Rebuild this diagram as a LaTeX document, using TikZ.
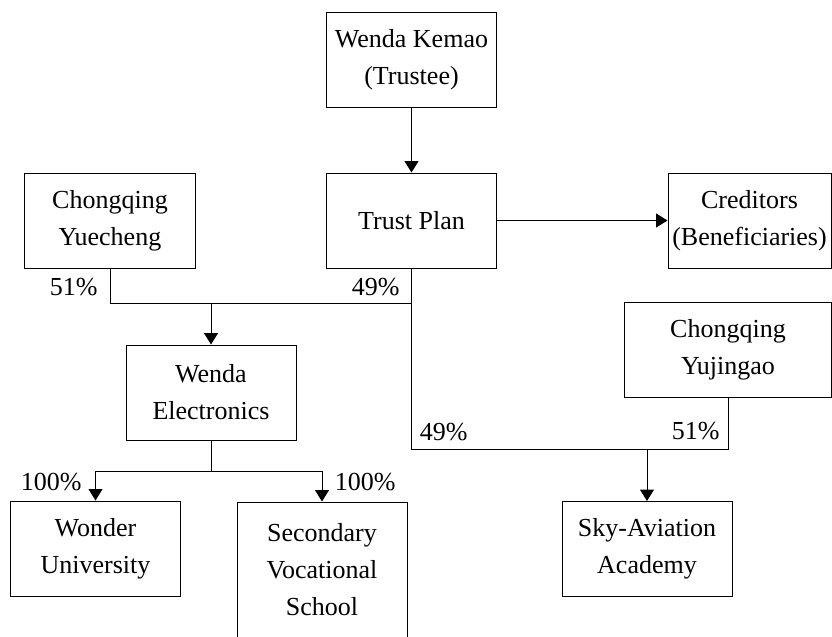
\documentclass[tikz,border=0pt]{standalone}
\usepackage{fontspec}
\setmainfont{Liberation Serif}
\usetikzlibrary{arrows.meta}

\begin{document}
\begin{tikzpicture}[
  x=0.4pt,
  y=-0.4pt,
  font=\fontsize{10.4}{14.8}\selectfont,
  entity/.style={draw,line width=0.4pt,align=center,inner sep=0pt,minimum width=68pt,minimum height=38pt},
  link/.style={draw,line width=0.4pt},
  share/.style={link,-{Triangle[width=5.6pt,length=4.6pt]}},
  pct/.style={inner sep=0pt,anchor=east}
]
  % Match the artwork frame.
  \useasboundingbox (0,0) rectangle (832,636);

  % Entities, placed at their frame centres.
  \node[entity] (kemao) at (411.5,59.5) {Wenda Kemao\\(Trustee)};
  \node[entity] (trust) at (411.5,220.5) {Trust Plan};
  \node[entity,minimum width=65.2pt] (creditors) at (749.5,220.5) {Creditors\\(Beneficiaries)};
  \node[entity] (yuecheng) at (110,220.5) {Chongqing\\Yuecheng};
  \node[entity,minimum width=82.8pt] (yujingao) at (728,350) {Chongqing\\Yujingao};
  \node[entity] (electronics) at (211,392.5) {Wenda\\Electronics};
  \node[entity] (wonder) at (95.5,548.5) {Wonder\\University};
  \node[entity,minimum height=54.4pt] (secondary) at (322,570) {Secondary\\Vocational\\School};
  \node[entity] (sky) at (647,549) {Sky-Aviation\\Academy};

  % Junction points of the ownership lines.
  \coordinate (jtop) at (211,303);
  \coordinate (jlow) at (211,471);
  \coordinate (jright) at (647,449);

  % Trust relations.
  \draw[share] (kemao) -- (trust);
  \draw[share] (trust) -- (creditors);

  % Shareholdings.
  \draw[link] (yuecheng.south) |- (jtop) -| (trust.south);
  \draw[share] (jtop) -- (electronics);
  \draw[link] (trust.south) |- (jright) -| (yujingao.south);
  \draw[share] (jright) -- (sky);
  \draw[link] (electronics) -- (jlow);
  \draw[share] (jlow) -| (wonder.north);
  \draw[share] (jlow) -| (secondary.north);

  % Stake percentages.
  \node[pct] (yuechengpct) at (98,287) {51\%};
  \node[pct] (trustpct) at (400,287) {49\%};
  \node[pct] (trustskypct) at (468,432) {49\%};
  \node[pct] (yujingaopct) at (720,431) {51\%};
  \node[pct] (wonderpct) at (82,482) {100\%};
  \node[pct] (secondarypct) at (396,482) {100\%};
\end{tikzpicture}
\end{document}
